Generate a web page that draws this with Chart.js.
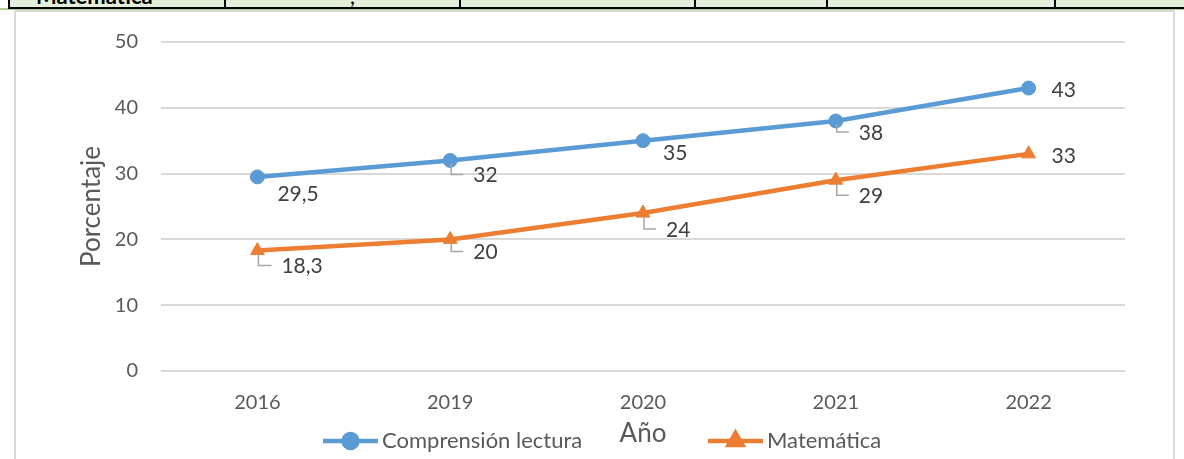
<!DOCTYPE html>
<html><head><meta charset="utf-8">
<script src="https://cdn.jsdelivr.net/npm/chart.js@4.4.1/dist/chart.umd.min.js"></script>
<style>
html,body{margin:0;padding:0;background:#fff;}
body{width:1184px;height:459px;position:relative;overflow:hidden;font-family:Lato,"Liberation Sans",sans-serif;}
#strip{position:absolute;left:8px;top:0;width:1176px;height:7px;background:#e2efda;border-bottom:2px solid #000;overflow:hidden}
.vl{position:absolute;top:0;width:2px;height:7px;background:#000}
.cell{position:absolute;top:-18px;font-weight:bold;font-size:22px;color:#000;white-space:nowrap}
#green{position:absolute;left:0;top:8px;width:1184px;height:2px;background:#a9d08e}
#frame{position:absolute;left:14px;top:10px;width:1157px;height:460px;border:2px solid #d9d9d9;border-bottom:none;background:#fff}
#c{position:absolute;left:0;top:0}
</style></head>
<body>
<div id="green"></div>
<div id="strip">
  <div class="vl" style="left:0px"></div>
  <div class="cell" style="left:28px">Matemática</div>
  <div class="vl" style="left:216px"></div>
  <div class="cell" style="left:342px;font-weight:normal">,</div>
  <div class="vl" style="left:451px"></div>
  <div class="vl" style="left:686px"></div>
  <div class="vl" style="left:818px"></div>
  <div class="vl" style="left:1046px"></div>
</div>
<div id="frame"></div>
<canvas id="c" width="1184" height="459"></canvas>
<script>
// ---- data ----
const categories = ['2016', '2019', '2020', '2021', '2022'];
const lectura = [29.5, 32, 35, 38, 43];
const matematica = [18.3, 20, 24, 29, 33];
const seriesNames = ['Comprensión lectura', 'Matemática'];
const yTickValues = [0, 10, 20, 30, 40, 50];
const yTitle = 'Porcentaje';
const xTitle = 'Año';

// ---- styling ----
const colors = ['#5b9bd5', '#ed7d31'];
const pointStyles = ['circle', 'triangle'];
const pointRadii = [7, 8];
const FONT = 'Lato, "Liberation Sans", sans-serif';
// label offsets [dx, dy, leader]
const labelOffsets = [
  [[20, 17, false], [23, 15, true], [20, 13, false], [23, 12, true], [23, 2, false]],
  [[24, 16, true], [23, 13, true], [23, 17, true], [23, 16, true], [23, 2, false]]
];
const legendX = [323, 708];
const legendY = 441;

const fmt = v => String(v).replace('.', ',');

const labelPlugin = {
  id: 'labels',
  afterDatasetsDraw(chart) {
    const ctx = chart.ctx;
    ctx.save();
    chart.data.datasets.forEach((ds, di) => {
      const meta = chart.getDatasetMeta(di);
      meta.data.forEach((pt, i) => {
        const [dx, dy, leader] = labelOffsets[di][i];
        const lx = pt.x + dx, ly = pt.y + dy;
        if (leader) {
          ctx.strokeStyle = '#a6a6a6';
          ctx.lineWidth = 1.5;
          ctx.beginPath();
          ctx.moveTo(pt.x + 1, pt.y + 3);
          ctx.lineTo(pt.x + 1, ly - 1);
          ctx.lineTo(lx - 10, ly - 1);
          ctx.stroke();
        }
        ctx.fillStyle = '#404040';
        ctx.font = '21px ' + FONT;
        ctx.textAlign = 'left';
        ctx.textBaseline = 'middle';
        ctx.fillText(fmt(ds.data[i]), lx, ly);
      });
    });
    ctx.restore();
  },
  afterDraw(chart) {
    const ctx = chart.ctx;
    ctx.save();
    chart.data.datasets.forEach((ds, di) => {
      const x0 = legendX[di];
      ctx.strokeStyle = ds.borderColor;
      ctx.lineWidth = 4.5;
      ctx.beginPath();
      ctx.moveTo(x0, legendY);
      ctx.lineTo(x0 + 55, legendY);
      ctx.stroke();
      ctx.fillStyle = ds.borderColor;
      ctx.strokeStyle = ds.borderColor;
      Chart.helpers.drawPoint(ctx, {pointStyle: ds.pointStyle, radius: ds.pointRadius, borderWidth: 1, rotation: 0}, x0 + 27.5, legendY);
      ctx.fillStyle = '#595959';
      ctx.font = '22px ' + FONT;
      ctx.textAlign = 'left';
      ctx.textBaseline = 'middle';
      ctx.fillText(ds.label, x0 + 59, legendY);
    });
    ctx.restore();
  }
};

const datasets = [lectura, matematica].map((arr, i) => ({
  label: seriesNames[i],
  data: arr,
  borderColor: colors[i],
  backgroundColor: colors[i],
  borderWidth: 4.5,
  pointStyle: pointStyles[i],
  pointRadius: pointRadii[i],
  pointBorderWidth: 1,
  pointBackgroundColor: colors[i],
  pointBorderColor: colors[i],
  tension: 0,
  fill: false
}));

new Chart(document.getElementById('c'), {
  type: 'line',
  data: {labels: categories, datasets},
  options: {
    responsive: false,
    animation: false,
    layout: {padding: {left: 76, right: 59, top: 42, bottom: 10}},
    plugins: {legend: {display: false}, tooltip: {enabled: false}},
    scales: {
      x: {
        offset: true,
        grid: {display: false},
        border: {display: false},
        ticks: {color: '#595959', font: {family: FONT, size: 20}, padding: 12, maxRotation: 0},
        title: {display: true, text: xTitle, color: '#595959', font: {family: FONT, size: 26}, padding: 0},
        afterFit(s) { s.height = 78; }
      },
      y: {
        min: 0, max: 50,
        afterBuildTicks(s) { s.ticks = yTickValues.map(v => ({value: v})); },
        grid: {color: '#d9d9d9', lineWidth: 2, drawTicks: false},
        border: {display: false},
        ticks: {color: '#595959', font: {family: FONT, size: 20}, padding: 23},
        title: {display: true, text: yTitle, color: '#595959', font: {family: FONT, size: 26}, padding: 0},
        afterFit(s) { s.width = 85; }
      }
    }
  },
  plugins: [labelPlugin]
});
</script>
</body></html>
